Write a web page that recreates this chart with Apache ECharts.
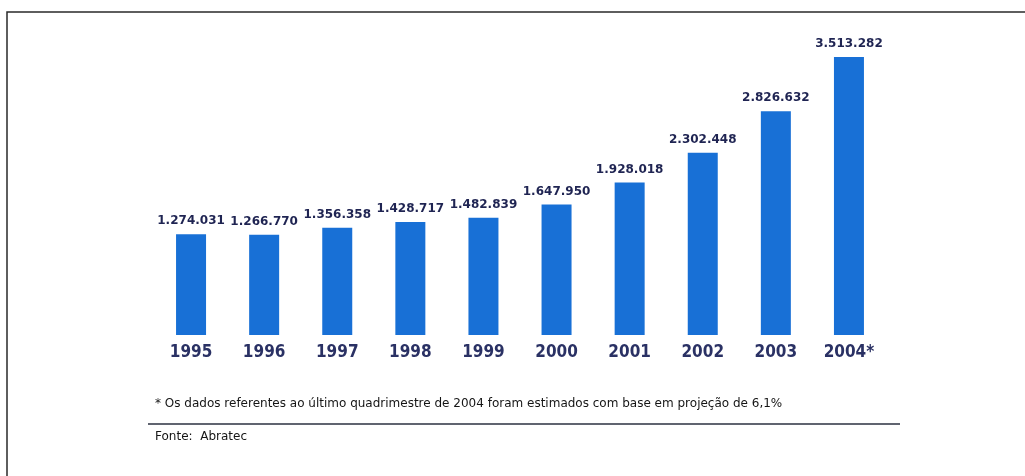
<!DOCTYPE html>
<html>
<head>
<meta charset="utf-8">
<script src="https://cdn.jsdelivr.net/npm/echarts@6/dist/echarts.min.js"></script>
<style>
  html, body { margin: 0; padding: 0; background: #ffffff; }
  #chart { width: 1025px; height: 476px; }
</style>
</head>
<body>
<div id="chart"></div>
<script>
// Movimentação anual de contêineres (TEU), 1995–2004
const years = ['1995', '1996', '1997', '1998', '1999', '2000', '2001', '2002', '2003', '2004*'];
const teus = [1274031, 1266770, 1356358, 1428717, 1482839, 1647950, 1928018, 2302448, 2826632, 3513282];
const footnote = '* Os dados referentes ao último quadrimestre de 2004 foram estimados com base em projeção de 6,1%';
const source = 'Fonte:  Abratec';

// Thousands separated with dots, Brazilian style
function fmt(v) {
  return String(v).replace(/\B(?=(\d{3})+(?!\d))/g, '.');
}

const chart = echarts.init(document.getElementById('chart'));
chart.setOption({
  backgroundColor: '#ffffff',
  animation: false,
  grid: { left: 154.5, right: 139.5, top: 18.5, bottom: 141 },
  xAxis: {
    type: 'category',
    data: years,
    axisLine: { show: false },
    axisTick: { show: false },
    axisLabel: {
      margin: 9,
      color: '#2a3164',
      fontFamily: '"DejaVu Sans Condensed", "DejaVu Sans", sans-serif',
      fontWeight: 'bold',
      fontSize: 17
    }
  },
  yAxis: {
    type: 'value',
    min: 0,
    max: 4000000,
    show: false,
    splitLine: { show: false }
  },
  series: [{
    type: 'bar',
    data: teus,
    barWidth: 30,
    itemStyle: { color: '#1870d6' },
    label: {
      show: true,
      position: 'top',
      distance: 7,
      formatter: p => fmt(p.value),
      color: '#1f2452',
      fontFamily: '"DejaVu Sans", sans-serif',
      fontWeight: 'bold',
      fontSize: 12
    }
  }],
  graphic: [
    // outer frame: top and left edges
    {
      type: 'polyline',
      shape: { points: [[7, 476], [7, 12], [1025, 12]] },
      style: { stroke: '#2a2a2a', lineWidth: 1.5, fill: null }
    },
    {
      type: 'text',
      left: 155,
      top: 398,
      style: {
        text: footnote,
        fill: '#151515',
        font: '12px "DejaVu Sans", sans-serif'
      }
    },
    {
      type: 'line',
      shape: { x1: 148, y1: 424, x2: 900, y2: 424 },
      style: { stroke: '#2b3040', lineWidth: 1.5 }
    },
    {
      type: 'text',
      left: 155,
      top: 431,
      style: {
        text: source,
        fill: '#151515',
        font: '12px "DejaVu Sans", sans-serif'
      }
    }
  ]
});
</script>
</body>
</html>
